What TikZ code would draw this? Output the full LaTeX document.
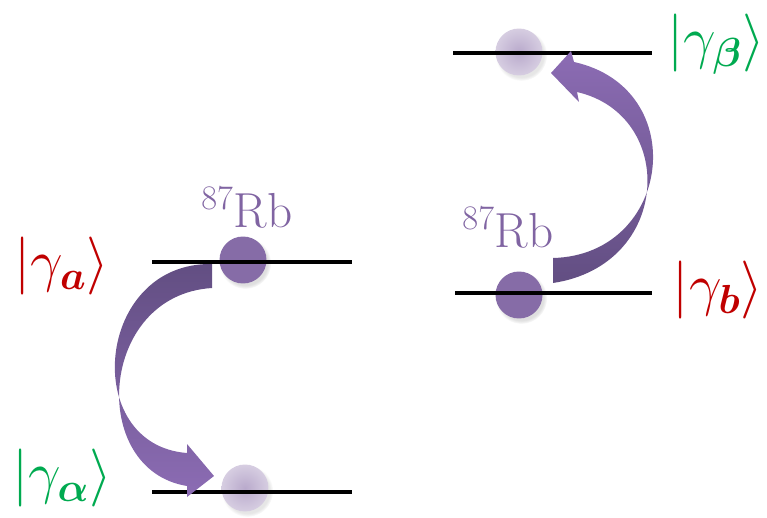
\RequirePackage{fix-cm}
\documentclass[tikz,border=0pt]{standalone}
\usepackage{amsmath}
\usetikzlibrary{shadows}

\definecolor{rbpurple}{RGB}{128,100,162}
\definecolor{arrowdark}{RGB}{98,78,130}
\definecolor{arrowlight}{RGB}{140,108,180}
\definecolor{statered}{RGB}{192,0,0}
\definecolor{stategreen}{RGB}{0,170,80}

\begin{document}
\begin{tikzpicture}
    	[x=0.02cm, y=-0.02cm,
    	level/.style={line width=0.075cm, black},
    	atom/.style={circle, inner sep=0pt, minimum size=0.94cm, fill=rbpurple!95!white,
    		circular drop shadow={shadow xshift=1.2pt, shadow yshift=-1.6pt, opacity=0.25}},
    	ghost/.style={circle, inner sep=0pt, minimum size=0.94cm, inner color=rbpurple!55!white, outer color=rbpurple!32!white,
    		circular drop shadow={shadow xshift=1.2pt, shadow yshift=-1.6pt, opacity=0.2}},
    	ket/.style={font=\fontsize{33}{35}\selectfont},
    	rb/.style={text=rbpurple, font=\fontsize{28}{30}\selectfont}]
    	
    	\useasboundingbox (0,0) rectangle (767,517);
    	
    	% atoms
    	\node[atom] (ra) at (243,260) {};
    	\node[ghost] (gal) at (245,488) {};
    	\node[ghost] (gbe) at (519,52) {};
    	\node[atom] (rb) at (519,295) {};
    	
    	% levels
    	\coordinate (a1) at (152,262);   \coordinate (a2) at (352,262);
    	\coordinate (al1) at (152,492);  \coordinate (al2) at (352,492);
    	\coordinate (be1) at (453,53);   \coordinate (be2) at (652,53);
    	\coordinate (b1) at (455,293);   \coordinate (b2) at (652,293);
    	\draw[level] (a1) -- (a2);
    	\draw[level] (al1) -- (al2);
    	\draw[level] (be1) -- (be2);
    	\draw[level] (b1) -- (b2);
    	
    	% transfer arrows
    	\shade[top color=arrowdark, bottom color=arrowlight]
    	(212,264) .. controls (95,262) and (80,445) .. (187,453)
    	-- (187,444) -- (214,476) -- (187,497) -- (187,486)
    	.. controls (88,470) and (98,295) .. (212,288) -- cycle;
    	\shade[top color=arrowlight, bottom color=arrowdark]
    	(553,258) .. controls (672,255) and (692,88) .. (574,62)
    	-- (571,51) -- (551,73) -- (579,102) -- (577,92)
    	.. controls (677,115) and (672,265) .. (553,283) -- cycle;
    	
    	% labels
    	\node[rb] (rbl) at (247,208) {$^{87}$Rb};
    	\node[rb] (rbr) at (508,228) {$^{87}$Rb};
    	\node[ket, text=statered] (ka) at (62,266) {$|\gamma_{\boldsymbol{a}}\rangle$};
    	\node[ket, text=stategreen] (kal) at (62,478) {$|\gamma_{\boldsymbol{\alpha}}\rangle$};
    	\node[ket, text=stategreen] (kbe) at (716,44) {$|\gamma_{\boldsymbol{\beta}}\rangle$};
    	\node[ket, text=statered] (kb) at (718,290) {$|\gamma_{\boldsymbol{b}}\rangle$};
    \end{tikzpicture}
\end{document}
